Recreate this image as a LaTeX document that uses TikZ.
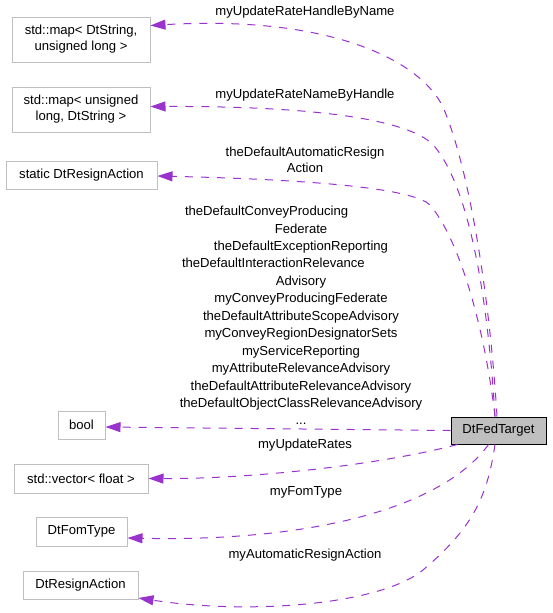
\documentclass[tikz,border=0pt]{standalone}
\usepackage{fontspec}
\setmainfont{Liberation Sans}
\usetikzlibrary{arrows.meta}

\definecolor{edgepurple}{HTML}{9A32CD}
\definecolor{boxgray}{HTML}{BFBFBF}
\newcommand{\lblfont}{\fontsize{13.1}{16}\selectfont}

\tikzset{
  member/.style={draw=boxgray, fill=white, line width=1pt, font=\lblfont,
    align=center, inner sep=0pt},
  target/.style={draw=black, fill=boxgray, line width=1pt, font=\lblfont,
    inner sep=0pt},
  usage/.style={draw=edgepurple, line width=1pt, dash pattern=on 8pt off 8pt,
    -{Triangle[length=15pt,width=10pt]}},
  edgelabel/.style={font=\lblfont, align=center, inner sep=0pt},
}

\begin{document}
\begin{tikzpicture}[x=1pt, y=-1pt]
    \useasboundingbox (0,0) rectangle (552,613);

    % Member types on the left
    \node[member, minimum width=138pt, minimum height=45pt] (handlemap) at (81,39.5)
        {std::map< DtString,\\unsigned long >};
    \node[member, minimum width=138pt, minimum height=45pt] (namemap) at (81,109.5)
        {std::map< unsigned\\long, DtString >};
    \node[member, minimum width=151pt, minimum height=28pt] (staticaction) at (81.5,175)
        {static DtResignAction};
    \node[member, minimum width=47pt, minimum height=28pt] (boolvar) at (81.5,425) {bool};
    \node[member, minimum width=134pt, minimum height=29pt] (ratevec) at (81,478.5)
        {std::vector< float >};
    \node[member, minimum width=91pt, minimum height=29pt] (fomtype) at (81.5,531.5)
        {DtFomType};
    \node[member, minimum width=115pt, minimum height=28pt] (resignaction) at (80.5,585)
        {DtResignAction};

    % The class itself
    \node[target, minimum width=95pt, minimum height=27pt] (fedtarget) at (498.5,430.5)
        {DtFedTarget};

    % Usage connectors (class -> member type)
    \draw[usage] ([xshift=-1.5pt]fedtarget.north) .. controls (490,300) and (470,170) .. (443,107)
        .. controls (420,60) and (330,15) .. ([yshift=14pt]handlemap.east);
    \draw[usage] ([xshift=-3.5pt]fedtarget.north) .. controls (488,300) and (470,190) .. (435,147)
        .. controls (415,122) and (330,106) .. ([yshift=3pt]namemap.east);
    \draw[usage] ([xshift=-3.5pt]fedtarget.north) .. controls (485,330) and (460,240) .. (430,205)
        .. controls (415,190) and (330,180) .. ([yshift=-1pt]staticaction.east);
    \draw[usage] (fedtarget.west) -- ([yshift=-2pt]boolvar.east);
    \draw[usage] ([xshift=7pt]fedtarget.south west) .. controls (380,465) and (250,479) .. (ratevec.east);
    \draw[usage] ([xshift=-10pt]fedtarget.south) .. controls (445,505) and (320,542) .. ([yshift=-6.5pt]fomtype.east);
    \draw[usage] ([xshift=-3.5pt]fedtarget.south) .. controls (487,500) and (470,530) .. (423,570)
        .. controls (380,605) and (250,615) .. ([yshift=-13pt]resignaction.east);

    % Connector labels
    \node[edgelabel] (handlelbl) at (305,12.5) {myUpdateRateHandleByName};
    \node[edgelabel] (namelbl) at (305,95) {myUpdateRateNameByHandle};
    \node[edgelabel] (staticlbl) at (305,160) {theDefaultAutomaticResign\\Action};
    \node[edgelabel, font={\fontsize{13.1}{17.45}\selectfont}] (boollbl) at (301,315.5)
        {\makebox[242pt][l]{\hspace{5pt}theDefaultConveyProducing}\\
         Federate\\
         theDefaultExceptionReporting\\
         \makebox[242pt][l]{\hspace{2pt}theDefaultInteractionRelevance}\\
         Advisory\\
         myConveyProducingFederate\\
         theDefaultAttributeScopeAdvisory\\
         myConveyRegionDesignatorSets\\
         myServiceReporting\\
         myAttributeRelevanceAdvisory\\
         theDefaultAttributeRelevanceAdvisory\\
         theDefaultObjectClassRelevanceAdvisory\\
         ...};
    \node[edgelabel] (ratelbl) at (305,445) {myUpdateRates};
    \node[edgelabel] (fomlbl) at (306,492) {myFomType};
    \node[edgelabel] (resignlbl) at (305,555) {myAutomaticResignAction};
\end{tikzpicture}
\end{document}
